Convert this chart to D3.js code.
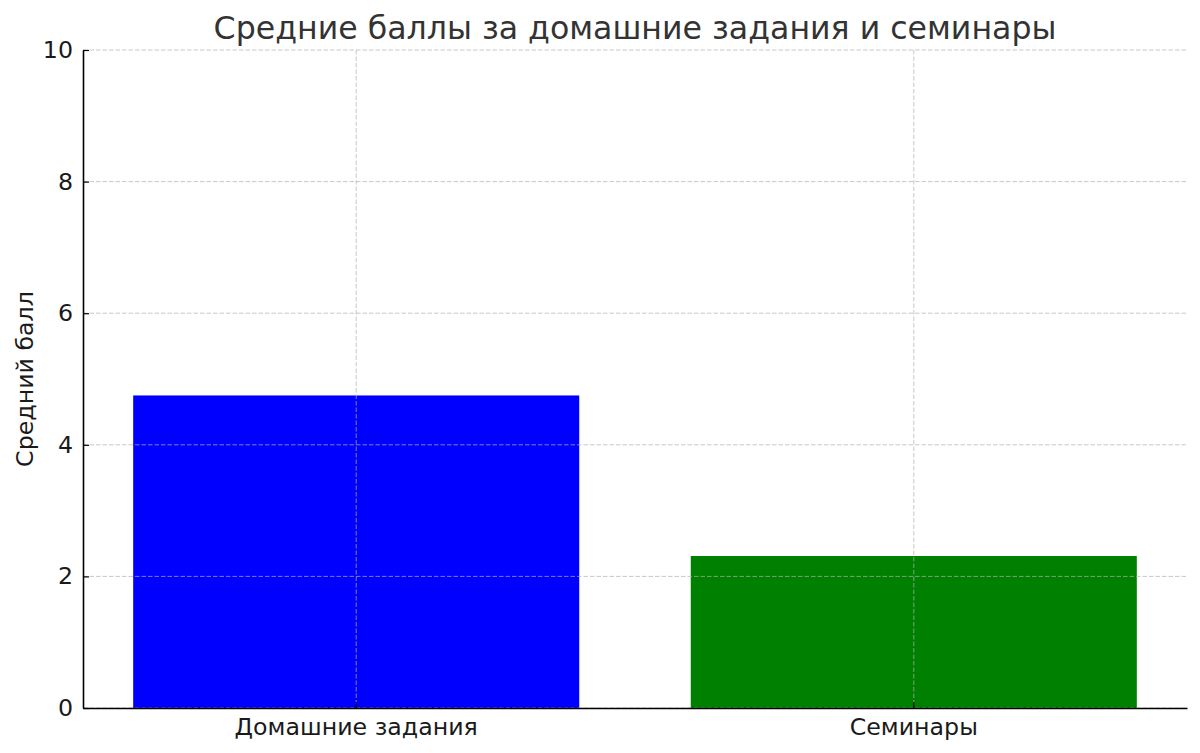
<!DOCTYPE html>
<html>
<head>
<meta charset="utf-8">
<script src="https://cdn.jsdelivr.net/npm/d3@7"></script>
<style>
  body { margin: 0; background: #fff; }
  svg { display: block; font-family: "DejaVu Sans", sans-serif; }
</style>
</head>
<body>
<div id="chart"></div>
<script>
// data
const categories = ['Домашние задания', 'Семинары'];
const averages = [4.75, 2.31];
const barColors = ['#0000ff', '#008000'];
const yTicks = [0, 2, 4, 6, 8, 10];

const WIDTH = 1200;
const HEIGHT = 753;
const margin = { top: 50, right: 13, bottom: 45, left: 83 };

const svg = d3.select('#chart')
  .append('svg')
  .attr('width', WIDTH)
  .attr('height', HEIGHT);

const x = d3.scaleBand()
  .domain(categories)
  .range([margin.left, WIDTH - margin.right])
  .paddingInner(0.2)
  .paddingOuter(0.09);

const y = d3.scaleLinear()
  .domain([0, 10])
  .range([HEIGHT - margin.bottom, margin.top]);

// bars
svg.append('g')
  .selectAll('rect')
  .data(categories)
  .join('rect')
  .attr('x', d => x(d))
  .attr('y', (d, i) => y(averages[i]))
  .attr('width', x.bandwidth())
  .attr('height', (d, i) => y(0) - y(averages[i]))
  .attr('fill', (d, i) => barColors[i]);

// grid (drawn over the bars, like the original)
const grid = svg.append('g')
  .attr('stroke', '#b0b0b0')
  .attr('stroke-opacity', 0.7)
  .attr('stroke-width', 1)
  .attr('stroke-dasharray', '4.5,2');

grid.selectAll('.hgrid')
  .data(yTicks)
  .join('line')
  .attr('class', 'hgrid')
  .attr('x1', margin.left)
  .attr('x2', WIDTH - margin.right)
  .attr('y1', d => y(d))
  .attr('y2', d => y(d));

grid.selectAll('.vgrid')
  .data(categories)
  .join('line')
  .attr('class', 'vgrid')
  .attr('x1', d => x(d) + x.bandwidth() / 2)
  .attr('x2', d => x(d) + x.bandwidth() / 2)
  .attr('y1', margin.top)
  .attr('y2', HEIGHT - margin.bottom);

// axes
const xAxis = svg.append('g')
  .attr('transform', `translate(0,${HEIGHT - margin.bottom})`)
  .call(d3.axisBottom(x).tickSize(-6).tickSizeOuter(0).tickPadding(10));

const yAxis = svg.append('g')
  .attr('transform', `translate(${margin.left},0)`)
  .call(d3.axisLeft(y).tickValues(yTicks).tickSize(-6).tickSizeOuter(0).tickPadding(10));

[xAxis, yAxis].forEach(a => {
  a.select('.domain').attr('stroke', '#000').attr('stroke-width', 1.6);
  a.selectAll('.tick line').attr('stroke', '#000').attr('stroke-width', 1.2);
  a.selectAll('.tick text')
    .attr('fill', '#1a1a1a')
    .style('font-size', '23.7px')
    .style('font-family', '"DejaVu Sans", sans-serif');
});

// title
svg.append('text')
  .attr('x', (margin.left + WIDTH - margin.right) / 2)
  .attr('y', 39)
  .attr('text-anchor', 'middle')
  .attr('fill', '#333')
  .style('font-size', '31.6px')
  .text('Средние баллы за домашние задания и семинары');

// y label
svg.append('text')
  .attr('transform', `translate(33,${(margin.top + HEIGHT - margin.bottom) / 2}) rotate(-90)`)
  .attr('text-anchor', 'middle')
  .attr('fill', '#1a1a1a')
  .style('font-size', '23.7px')
  .text('Средний балл');
</script>
</body>
</html>
